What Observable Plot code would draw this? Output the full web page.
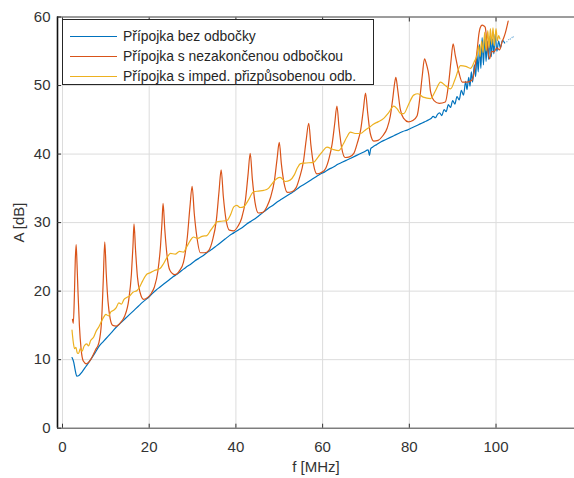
<!DOCTYPE html>
<html>
<head>
<meta charset="utf-8">
<script src="https://cdn.jsdelivr.net/npm/d3@7"></script>
<script src="https://cdn.jsdelivr.net/npm/@observablehq/plot@0.6"></script>
<style>
  html, body { margin: 0; padding: 0; background: #fff; }
  #wrap { position: relative; width: 574px; height: 478px; overflow: hidden; font-family: "Liberation Sans", Arial, Helvetica, sans-serif; }
  #legend { position: absolute; left: 62px; top: 19px; width: 312px; height: 66px; border: 1px solid #262626; background: #fff; box-sizing: border-box; }
  .item { position: absolute; left: 0; height: 20px; width: 300px; font-size: 13.9px; color: #262626; white-space: nowrap; }
  .item .sw { position: absolute; left: 7px; top: 9px; width: 47px; height: 0; border-top: 1.4px solid; }
  .item span { position: absolute; left: 60px; top: 1px; }
</style>
</head>
<body>
<div id="wrap"></div>
<script>
// ---- data ----
const seriesNames = ["Přípojka bez odbočky", "Přípojka s nezakončenou odbočkou", "Přípojka s imped. přizpůsobenou odb."];
const seriesColors = ["#0072BD", "#D95319", "#EDB120"];
const xTicks = [0, 20, 40, 60, 80, 100];
const yTicks = [0, 10, 20, 30, 40, 50, 60];

const blueData = [
  [2.2,10.3],[2.6,9.6],[2.9,8.6],[3.3,7.6],[3.8,7.7],[4.5,8.2],[5.5,9.1],[6.5,10.0],[7.5,11.0],[8.5,12.0],
  [9.5,12.7],[10.5,13.4],[11.5,14.1],[12.5,14.8],[13.5,15.4],[14.5,16.0],[15.5,16.6],[16.5,17.2],[17.5,17.8],
  [18.5,18.4],[19.5,18.9],[20.5,19.5],[21.5,20.1],[22.5,20.6],[23.5,21.1],[24.5,21.6],[25.5,22.1],[26.5,22.5],
  [27.5,23.0],[28.5,23.5],[29.5,23.9],[30.5,24.4],[31.5,24.8],[32.5,25.2],[33.5,25.7],[34.5,26.1],[35.5,26.6],
  [36.5,27.1],[37.5,27.6],[38.5,28.1],[39.5,28.5],[40.5,28.9],[41.5,29.3],[42.5,29.8],[43.5,30.2],[44.5,30.6],
  [45.5,31.1],[46.5,31.6],[47.5,32.1],[48.5,32.5],[49.5,33.0],[50.5,33.4],[51.5,33.8],[52.5,34.2],[53.5,34.6],
  [54.5,35.1],[55.5,35.5],[56.5,35.9],[57.5,36.3],[58.5,36.7],[59.5,37.1],[60.5,37.4],[61.5,37.8],[62.5,38.1],
  [63.5,38.5],[64.5,38.8],[65.5,39.1],[66.5,39.4],[67.5,39.7],[68.5,40.0],[69.5,40.3],[70.5,40.6],[70.8,39.8],
  [71.1,40.8],[71.5,41.0],[72.5,41.4],[73.5,41.8],[74.5,42.1],[75.5,42.4],[76.5,42.7],[77.5,43.0],[78.5,43.3],
  [79.5,43.5],[80.5,43.8],[81.5,44.1],[82.5,44.4],[83.5,44.7],[84.5,45.0],[85,45.2],[85.5,45.5],[86,45.3],[86.5,45.8],
  [87,46.0],[87.5,45.6],[88,46.5],[88.5,46.2],[89,47.2],[89.5,46.8],[90,47.8],[90.5,47.3],[91,48.4],[91.5,47.9],[92,49.3],
  [92.5,48.6],[93,50.6],[93.3,49.4],[93.7,51.2],[94,49.9],[94.3,52.0],[94.6,50.5],[95,53.0],[95.3,51.3],
  [95.6,54.5],[95.9,52.0],[96.2,56.0],[96.5,52.5],[96.8,57.0],[97.1,53.0],[97.4,57.5],[97.7,53.5],[98,56.5],
  [98.3,53.8],[98.6,57.2],[98.9,54.2],[99.2,56.8],[99.5,54.6],[99.8,57.5],[100.2,55.0],[100.6,56.5],[101,55.5],
  [101.5,56.6],[102,56.2]
];
const blueDots = [[102.5,56.4],[102.9,56.7],[103.3,56.8],[103.7,57.0],[104.0,57.1]];

const orangeData = [
  [2.3,15.9],[2.5,15.3],[2.75,19.5],[2.95,24.5],[3.15,26.8],[3.35,24.0],[3.6,19.5],[3.9,15.0],[4.3,11.5],
  [4.8,9.8],[5.5,9.4],[6.5,10.0],[7.6,11.4],[8.4,12.5],
  [9.0,15.5],[9.4,21.5],[9.75,27.2],[10.1,22.5],[10.5,18.5],[11.0,16.0],[11.6,15.0],[12.4,14.9],[13.5,15.5],[14.3,16.3],
  [15.3,18.8],[15.9,22.5],[16.25,26.5],[16.5,29.8],[16.85,26.0],[17.3,22.0],[17.9,19.8],[18.7,18.8],[19.5,19.0],[20.5,19.7],[21.2,20.6],
  [22.0,22.9],[22.6,26.5],[22.95,30.0],[23.2,32.8],[23.6,29.0],[24.1,25.3],[24.8,23.0],[25.9,22.4],[27.0,23.0],[27.9,24.2],
  [28.8,27.9],[29.4,32.3],[29.9,35.3],[30.4,31.3],[31.0,27.9],[31.8,25.6],[32.8,25.6],[33.8,26.0],[34.6,27.4],
  [35.5,30.4],[36.1,34.5],[36.6,37.7],[37.1,33.8],[37.7,30.5],[38.5,28.9],[39.5,28.8],[40.5,29.5],[41.3,30.6],
  [42.2,33.3],[42.8,37.0],[43.3,40.1],[43.8,36.3],[44.4,33.0],[45.2,31.4],[46.2,31.5],[47.2,32.4],[48.0,33.7],
  [48.9,36.2],[49.5,39.3],[50.0,41.7],[50.5,38.5],[51.1,35.8],[51.9,34.4],[52.9,34.5],[53.9,35.1],[54.7,36.6],
  [55.6,39.0],[56.2,42.0],[56.8,44.5],[57.3,41.3],[57.9,38.5],[58.7,37.1],[59.7,37.3],[60.7,37.9],[61.5,39.4],
  [62.2,41.5],[62.8,44.5],[63.3,47.0],[63.8,43.8],[64.4,40.9],[65.2,39.5],[66.2,39.6],[67.2,40.1],[68.0,41.6],
  [68.8,43.6],[69.4,46.5],[69.9,48.9],[70.4,46.0],[71.0,43.0],[71.8,41.9],[72.8,42.0],[73.8,42.6],
  [74.9,43.8],[75.6,45.5],[76.2,48.2],[76.6,50.3],[76.9,51.2],[77.3,49.5],[77.9,46.6],[78.7,45.2],[79.8,44.7],
  [80.8,44.9],[81.8,45.6],[82.5,48.6],[83.0,51.5],[83.5,53.9],[84.0,53.0],[84.5,51.5],[84.9,49.1],[85.7,47.8],
  [86.9,47.4],[88.3,47.6],[89.1,50.5],[89.6,53.5],[90.1,56.1],[90.6,54.4],[91.4,52.0],[92.2,50.5],[93.3,50.5],
  [94.5,50.8],[95.2,52.9],[95.7,55.5],[96.0,57.3],[96.4,58.5],[96.8,58.8],[97.2,58.7],[97.5,58.5],[97.9,56.4],
  [98.5,53.9],[99.0,55.0],[99.5,54.9],[100.2,55.5],[100.8,55.2],[101.4,56.4],[101.8,57.0],[102.2,57.8],[102.8,59.4]
];

const yellowData = [
  [2.2,14.3],[2.5,12.5],[2.8,11.6],[3.1,11.8],[3.4,11.0],[3.7,10.9],[4.1,11.6],[4.5,11.2],[5.0,12.0],[5.6,12.3],
  [6.0,12.0],[6.5,12.8],[7.2,13.3],[7.8,14.2],[8.4,14.8],[9.0,15.6],[9.5,16.2],[10.0,16.6],[10.6,16.4],[11.2,17.0],
  [11.8,17.2],[12.4,17.6],[13.0,18.3],[13.6,18.1],[14.2,18.8],[14.9,19.1],[15.5,19.3],[16.2,19.8],[17.2,20.1],
  [17.8,20.6],[18.5,21.5],[19.5,22.5],[20.3,22.7],[21.2,23.0],[22.5,23.3],[23.3,24.0],[24.2,25.0],[24.9,25.5],
  [26.0,25.4],[27.0,25.8],[27.9,25.7],[28.6,26.4],[29.4,27.3],[30.2,27.9],[31.2,27.7],[32.2,28.0],[33.3,28.1],
  [34.2,28.9],[35.0,29.6],[35.6,30.1],[36.6,30.2],[37.9,30.3],[38.8,31.2],[39.5,32.3],[40.2,32.5],[41.0,32.2],
  [41.8,32.3],[42.8,33.2],[44.1,34.5],[45.2,34.6],[46.4,34.7],[47.5,35.0],[48.5,35.8],[49.4,36.4],[50.2,36.6],
  [51.4,36.0],[52.5,36.2],[53.5,37.0],[54.2,38.0],[54.9,38.6],[56.2,38.7],[57.9,38.8],[59.0,39.6],[60.0,40.4],
  [61.0,41.0],[62.3,40.7],[63.7,40.5],[64.8,41.5],[65.6,42.5],[66.4,43.2],[67.5,43.0],[68.7,43.0],[70.0,43.6],
  [71.0,44.0],[71.8,44.4],[72.8,44.7],[74.1,45.2],[75.2,46.0],[76.4,47.0],[77.2,46.6],[78.0,45.9],[78.7,45.9],
  [79.8,47.2],[81.0,48.6],[82.0,48.8],[83.2,48.3],[84.9,48.1],[86.0,49.2],[87.2,50.5],[88.3,50.0],[89.5,49.5],
  [90.6,51.0],[91.8,52.9],[93.0,52.8],[94.1,52.5],[95.0,53.5],[95.6,54.4],[96.0,55.8],[96.3,54.2],[96.7,56.5],
  [97.0,54.8],[97.4,57.8],[97.7,55.0],[98.1,58.0],[98.4,55.5],[98.7,58.3],[99.0,56.0],[99.3,58.4],[99.6,55.8],
  [100.0,58.3],[100.3,56.5],[100.6,57.3],[100.9,56.8]
];

// ---- chart ----
const xDomain = [-1.15, 118.1];
const font = '"Liberation Sans", Arial, Helvetica, sans-serif';
const fx = d => d[0], fy = d => d[1];

const chart = Plot.plot({
  width: 574,
  height: 478,
  marginLeft: 57,
  marginRight: 0,
  marginTop: 16.5,
  marginBottom: 50.3,
  style: { fontFamily: font, fontSize: "15px", color: "#333", background: "#fff", overflow: "hidden" },
  x: { domain: xDomain },
  y: { domain: [0, 60] },
  marks: [
    Plot.gridX(xTicks, { stroke: "#dcdcdc", strokeOpacity: 1 }),
    Plot.gridY(yTicks, { stroke: "#dcdcdc", strokeOpacity: 1 }),
    Plot.line(blueData, { x: fx, y: fy, stroke: seriesColors[0], strokeWidth: 1.2, curve: "monotone-x" }),
    Plot.dot(blueDots, { x: fx, y: fy, r: 0.7, fill: seriesColors[0], fillOpacity: 0.5, stroke: null }),
    Plot.line(orangeData, { x: fx, y: fy, stroke: seriesColors[1], strokeWidth: 1.2, curve: "monotone-x" }),
    Plot.line(yellowData, { x: fx, y: fy, stroke: seriesColors[2], strokeWidth: 1.2, curve: "monotone-x" }),
    Plot.ruleY([0], { stroke: "#4d4d4d", strokeWidth: 1 }),
    Plot.ruleY([60], { stroke: "#4d4d4d", strokeWidth: 1 }),
    Plot.ruleX([xDomain[0]], { stroke: "#111", strokeWidth: 1.6 }),
    Plot.axisX(xTicks, { anchor: "bottom", tickSize: -4, tickPadding: 17, stroke: "#333", fontSize: 15,
      label: "f [MHz]", labelAnchor: "center", labelOffset: 44, labelArrow: "none" }),
    Plot.axisX(xTicks, { anchor: "top", tickSize: -4, tickFormat: () => "", label: null, stroke: "#333" }),
    Plot.axisY(yTicks, { anchor: "left", tickSize: -4, tickPadding: 11, stroke: "#333", fontSize: 15,
      label: "A [dB]", labelAnchor: "center", labelOffset: 44, labelArrow: "none" })
  ]
});

const wrap = document.getElementById("wrap");
wrap.appendChild(chart);

// legend (HTML overlay)
const legend = document.createElement("div");
legend.id = "legend";
const tops = [7, 27, 47];
seriesNames.forEach((name, i) => {
  const item = document.createElement("div");
  item.className = "item";
  item.style.top = tops[i] + "px";
  const sw = document.createElement("div");
  sw.className = "sw";
  sw.style.borderTopColor = seriesColors[i];
  const label = document.createElement("span");
  label.textContent = name;
  item.appendChild(sw);
  item.appendChild(label);
  legend.appendChild(item);
});
wrap.appendChild(legend);
</script>
</body>
</html>
